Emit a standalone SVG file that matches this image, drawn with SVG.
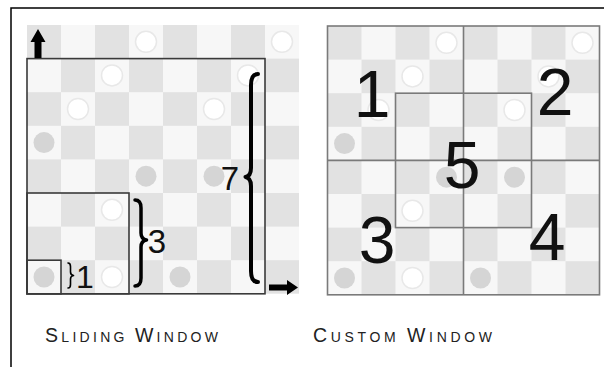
<svg xmlns="http://www.w3.org/2000/svg" width="604" height="367" viewBox="0 0 604 367">
<style>
.frame{stroke:#000;stroke-width:1.5;fill:none}
.win{fill:none;stroke:#3a3a3a;stroke-width:1.6}
.cw{fill:none;stroke:#7a7a7a;stroke-width:1.6}
.wc{fill:#fff;stroke:#e8e8e8;stroke-width:1.5}
.gc{fill:#d5d5d5}
.brace{fill:none;stroke:#000;stroke-linecap:round;stroke-linejoin:round}
.num{font-family:"Liberation Sans",Arial,sans-serif;fill:#111;text-anchor:middle}
.lbl{font-family:"Liberation Sans",Arial,sans-serif;fill:#222}
</style>
<defs>
<pattern id="chk" width="68" height="67.2" patternUnits="userSpaceOnUse">
<rect width="68" height="67.2" fill="#f7f7f7"/>
<rect x="0" y="0" width="34" height="33.6" fill="#e2e2e2"/>
<rect x="34" y="33.6" width="34" height="33.6" fill="#e2e2e2"/>
</pattern>
<g id="board">
<rect width="272" height="268.8" fill="url(#chk)"/>
<circle class="wc" cx="119" cy="16.8" r="10.5"/>
<circle class="wc" cx="255" cy="16.8" r="10.5"/>
<circle class="wc" cx="85" cy="50.4" r="10.5"/>
<circle class="wc" cx="221" cy="50.4" r="10.5"/>
<circle class="wc" cx="51" cy="84" r="10.5"/>
<circle class="wc" cx="187" cy="84" r="10.5"/>
<circle class="wc" cx="85" cy="184.8" r="10.5"/>
<circle class="wc" cx="85" cy="252" r="10.5"/>
<circle class="gc" cx="17" cy="117.6" r="10.5"/>
<circle class="gc" cx="119" cy="151.2" r="10.5"/>
<circle class="gc" cx="187" cy="151.2" r="10.5"/>
<circle class="gc" cx="17" cy="252" r="10.5"/>
<circle class="gc" cx="153" cy="252" r="10.5"/>
</g>
</defs>
<rect width="604" height="367" fill="#fff"/>
<path class="frame" d="M11 367 V8 H604"/>

<g id="sliding-window">
<use href="#board" x="27" y="25"/>
<rect class="win" x="27" y="58.6" width="238" height="235.2"/>
<rect class="win" x="27" y="193" width="102" height="100.8"/>
<rect class="win" x="27" y="260.2" width="34" height="33.6"/>
<polygon points="38,29 45.5,42 41.5,42 41.5,58 34.5,58 34.5,42 30.5,42" fill="#000"/>
<polygon points="298,287.5 287,280 287,284.5 269,284.5 269,290.5 287,290.5 287,295" fill="#000"/>
<path class="brace" stroke-width="4" d="M258 74 Q251 74 251 85 L251 168 Q251 176 245.5 177 Q251 178 251 186 L251 271 Q251 282 258 282"/>
<path class="brace" stroke-width="3.5" d="M135 200 Q141 200 141 208 L141 233 Q141 239 146.5 240 Q141 241 141 247 L141 278 Q141 286 135 286"/>
<path class="brace" stroke-width="1.6" d="M68 263 Q70.5 263 70.5 266.5 L70.5 272 Q70.5 275 73.5 275.5 Q70.5 276 70.5 279 L70.5 284.5 Q70.5 288 68 288"/>
<text class="num" x="230" y="190" font-size="33">7</text>
<text class="num" x="157" y="253" font-size="33">3</text>
<text class="num" x="85" y="288" font-size="32">1</text>
</g>

<g id="custom-window">
<use href="#board" x="327.5" y="26"/>
<rect class="cw" x="327.5" y="26" width="272" height="268.8"/>
<path class="cw" d="M463.5 26 V294.8 M327.5 160.4 H599.5"/>
<rect class="cw" x="395.5" y="93.2" width="136" height="134.4"/>
<text class="num" x="372" y="117" font-size="66">1</text>
<text class="num" x="555" y="115" font-size="66">2</text>
<text class="num" x="462" y="188" font-size="66">5</text>
<text class="num" x="377" y="263" font-size="66">3</text>
<text class="num" x="547" y="260" font-size="66">4</text>
</g>

<g id="labels">
<text class="lbl" x="45" y="342" textLength="173" lengthAdjust="spacing"><tspan font-size="19.5">S</tspan><tspan font-size="14">LIDING </tspan><tspan font-size="19.5">W</tspan><tspan font-size="14">INDOW</tspan></text>
<text class="lbl" x="313" y="342" textLength="179" lengthAdjust="spacing"><tspan font-size="19.5">C</tspan><tspan font-size="14">USTOM </tspan><tspan font-size="19.5">W</tspan><tspan font-size="14">INDOW</tspan></text>
</g>
</svg>
